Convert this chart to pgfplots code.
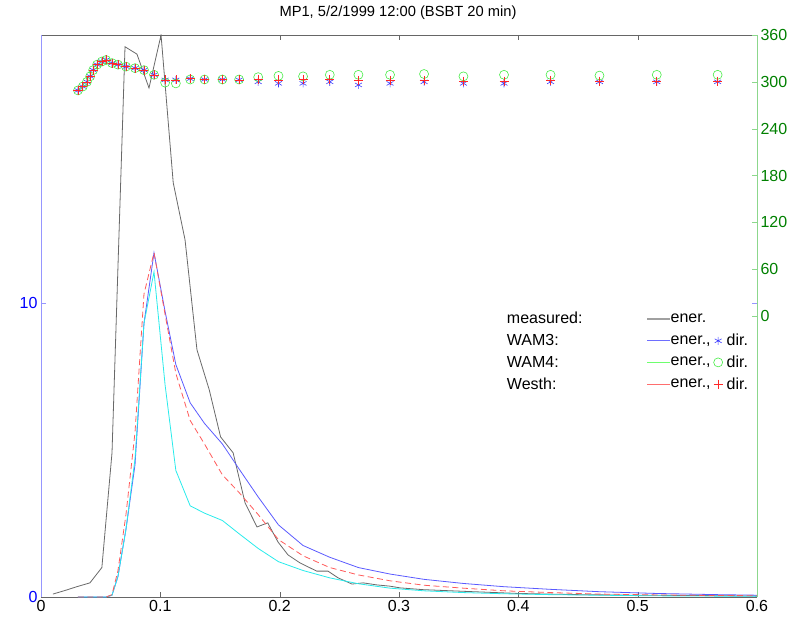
\documentclass[border=0pt]{standalone}
\usepackage{pgfplots}
\pgfplotsset{compat=1.18}
\usepackage{fontspec}
\setmainfont{Liberation Sans}
\definecolor{measgray}{RGB}{105,105,105}
\definecolor{wblue}{RGB}{90,90,255}
\definecolor{wcyan}{RGB}{40,235,235}
\definecolor{wred}{RGB}{255,90,90}
\definecolor{axblue}{RGB}{150,150,255}
\definecolor{axgreen}{RGB}{140,215,140}
\definecolor{tkgreen}{RGB}{0,128,0}
\definecolor{mkblue}{RGB}{60,60,255}
\definecolor{mkgreen}{RGB}{70,235,70}
\definecolor{mkred}{RGB}{255,40,40}
\definecolor{lggray}{RGB}{160,160,160}
\definecolor{lgblue}{RGB}{110,110,255}
\definecolor{lggreen}{RGB}{110,255,110}
\definecolor{lgred}{RGB}{255,110,110}

\begin{document}
\begin{tikzpicture}
\useasboundingbox (-41pt,-26pt) rectangle (748pt,597pt);
\begin{axis}[
  at={(0,0)}, anchor=south west, scale only axis,
  width=716pt, height=562pt,
  xmin=0, xmax=0.6, ymin=0, ymax=19.1,
  xtick={0,0.1,0.2,0.3,0.4,0.5,0.6},
  ytick={0,10},
  separate axis lines,
  x axis line style={black!60},
  y axis line style={axblue},
  xtick style={black!60}, ytick style={axblue},
  tick align=inside, major tick length=5pt,
  tick label style={font=\fontsize{16}{16}\selectfont},
  yticklabel style={text=blue},
  xticklabel style={/pgf/number format/fixed, /pgf/number format/precision=1},
  /pgf/number format/assume math mode=true,
]
% measured
\addplot[measgray, line width=0.8pt] coordinates {
(0.010,0.10)(0.020,0.22)(0.030,0.35)(0.041,0.48)(0.051,1.00)(0.0595,4.9)
(0.0704,18.7)(0.0804,18.45)(0.0905,17.3)(0.1006,19.1)(0.1108,14.08)(0.1207,12.14)
(0.1307,8.4)(0.1410,7.04)(0.1505,5.44)(0.1610,4.9)(0.1710,3.2)(0.1810,2.38)
(0.1900,2.52)(0.1986,1.87)(0.2070,1.43)(0.2170,1.16)(0.2310,0.88)(0.2405,0.88)
(0.2490,0.65)(0.2606,0.44)(0.2700,0.48)(0.2816,0.41)(0.2920,0.37)(0.3010,0.31)
(0.32,0.25)(0.35,0.20)(0.40,0.12)(0.45,0.08)(0.50,0.06)(0.55,0.05)(0.60,0.03)};
% WAM3
\addplot[wblue, line width=0.8pt] coordinates {
(0.031,0)(0.035,0)(0.0385,0)(0.0412,0)(0.0437,0)(0.047,0)(0.051,0)(0.0545,0)
(0.0595,0.06)(0.0645,0.7)(0.0712,2.3)(0.0788,4.5)(0.0863,9.3)(0.0947,11.7)
(0.104,9.7)(0.113,7.9)(0.125,6.6)(0.137,5.9)(0.152,5.2)(0.166,4.35)(0.182,3.4)
(0.199,2.45)(0.2196,1.75)(0.242,1.35)(0.266,1.0)(0.2925,0.78)(0.321,0.6)
(0.354,0.46)(0.388,0.35)(0.427,0.26)(0.468,0.18)(0.516,0.12)(0.567,0.08)(0.62,0.05)};
% WAM4
\addplot[wcyan, line width=0.8pt] coordinates {
(0.031,0)(0.035,0)(0.0385,0)(0.0412,0)(0.0437,0)(0.047,0)(0.051,0)(0.0545,0)
(0.0595,0.06)(0.0645,0.7)(0.0712,2.3)(0.0788,4.7)(0.0863,9.3)(0.0947,11.05)
(0.104,7.2)(0.113,4.3)(0.125,3.1)(0.137,2.85)(0.152,2.6)(0.166,2.15)(0.182,1.65)
(0.199,1.2)(0.2196,0.9)(0.242,0.65)(0.266,0.45)(0.2925,0.3)(0.321,0.21)
(0.354,0.15)(0.388,0.11)(0.427,0.08)(0.468,0.06)(0.516,0.04)(0.567,0.03)(0.62,0.02)};
% Westh
\addplot[wred, line width=0.8pt, dash pattern=on 6pt off 3.5pt] coordinates {
(0.031,0)(0.035,0)(0.0385,0)(0.0412,0)(0.0437,0)(0.047,0)(0.051,0)(0.0545,0)
(0.0595,0.08)(0.0645,0.9)(0.0712,2.8)(0.0788,5.6)(0.0863,10.3)(0.0947,11.7)
(0.104,9.6)(0.113,7.6)(0.125,6.0)(0.137,5.2)(0.152,4.15)(0.166,3.55)(0.182,2.8)
(0.199,1.95)(0.2196,1.4)(0.242,1.0)(0.266,0.75)(0.2925,0.55)(0.321,0.4)
(0.354,0.3)(0.388,0.21)(0.427,0.15)(0.468,0.1)(0.516,0.07)(0.567,0.05)(0.62,0.04)};
\end{axis}

\begin{axis}[
  at={(0,0)}, anchor=south west, scale only axis,
  width=716pt, height=562pt,
  xmin=0, xmax=0.6, ymin=-360, ymax=360,
  axis x line=none, axis y line*=right,
  ytick={0,60,120,180,240,300,360},
  y axis line style={axgreen, -},
  ytick style={axgreen},
  tick align=inside, major tick length=5pt,
  tick label style={font=\fontsize{16}{16}\selectfont},
  yticklabel style={text=tkgreen},
  /pgf/number format/assume math mode=true,
  legend plot pos=right,
  legend cell align=left,
  legend style={at={(0.6480,0.5100)}, anchor=north west, draw=none, fill=none,
    inner sep=0pt, outer sep=0pt, column sep=62pt, row sep=5pt,
    font=\fontsize{16}{16}\selectfont},
]
\addlegendimage{legend image code/.code={
  \path[draw=none, fill=none] (0pt,-6pt) rectangle (108pt,6pt);
  \draw[lggray, line width=1.2pt] (0pt,0pt) -- (23pt,0pt);
  \node[anchor=west, inner sep=0.5pt, text=black] at (23pt,0pt) {ener.};}}
\addlegendentry{measured:}
\addlegendimage{legend image code/.code={
  \path[draw=none, fill=none] (0pt,-6pt) rectangle (108pt,6pt);
  \draw[lgblue, line width=1.2pt] (0pt,0pt) -- (23pt,0pt);
  \node[anchor=west, inner sep=0.5pt, text=black] at (23pt,0pt) {ener.,};
  \draw[mkblue, line width=0.6pt] plot[mark=asterisk, mark size=4pt] coordinates {(71pt,0pt)};
  \node[anchor=west, inner sep=0.5pt, text=black] at (79pt,0pt) {dir.};}}
\addlegendentry{WAM3:}
\addlegendimage{legend image code/.code={
  \path[draw=none, fill=none] (0pt,-6pt) rectangle (108pt,6pt);
  \draw[lggreen, line width=1.2pt] (0pt,0pt) -- (23pt,0pt);
  \node[anchor=west, inner sep=0.5pt, text=black] at (23pt,0pt) {ener.,};
  \draw[mkgreen, line width=0.6pt] plot[mark=o, mark size=4.5pt] coordinates {(71pt,0pt)};
  \node[anchor=west, inner sep=0.5pt, text=black] at (79pt,0pt) {dir.};}}
\addlegendentry{WAM4:}
\addlegendimage{legend image code/.code={
  \path[draw=none, fill=none] (0pt,-6pt) rectangle (108pt,6pt);
  \draw[lgred, line width=1.2pt] (0pt,0pt) -- (23pt,0pt);
  \node[anchor=west, inner sep=0.5pt, text=black] at (23pt,0pt) {ener.,};
  \draw[mkred, line width=0.6pt] plot[mark=+, mark size=4.5pt] coordinates {(71pt,0pt)};
  \node[anchor=west, inner sep=0.5pt, text=black] at (79pt,0pt) {dir.};}}
\addlegendentry{Westh:}
% WAM3 dir
\addplot[only marks, mark=asterisk, mark size=4pt, mkblue, line width=0.6pt, forget plot] coordinates {
(0.031,289)(0.035,294)(0.0385,300)(0.0412,307)(0.0437,315)(0.047,322)(0.051,326)
(0.0545,328)(0.0595,324)(0.0645,322)(0.0712,319.5)(0.0788,317.5)(0.0863,315)
(0.0947,309)(0.104,302.5)(0.113,302.5)(0.125,304)(0.137,303)(0.152,303)(0.166,302.5)
(0.182,300)(0.199,298)(0.2196,298)(0.242,300)(0.266,296)(0.2925,298)(0.321,300)
(0.354,298)(0.388,298)(0.427,300)(0.468,300)(0.516,300)(0.567,300)};
% WAM4 dir
\addplot[only marks, mark=o, mark size=4.5pt, mkgreen, line width=0.6pt, forget plot] coordinates {
(0.031,289)(0.035,294)(0.0385,300)(0.0412,307)(0.0437,315)(0.047,322)(0.051,326)
(0.0545,328)(0.0595,324)(0.0645,322)(0.0712,319.5)(0.0788,317.5)(0.0863,315)
(0.0947,309)(0.104,299)(0.113,298)(0.125,303)(0.137,303)(0.152,303)(0.166,303)
(0.182,306)(0.199,307.6)(0.2196,307)(0.242,309)(0.266,309)(0.2925,309)(0.321,310)
(0.354,307)(0.388,309)(0.427,309)(0.468,308)(0.516,309)(0.567,309)};
% Westh dir
\addplot[only marks, mark=+, mark size=4.5pt, mkred, line width=0.6pt, forget plot] coordinates {
(0.031,289)(0.035,294)(0.0385,300)(0.0412,307)(0.0437,315)(0.047,322)(0.051,326)
(0.0545,328)(0.0595,324)(0.0645,322)(0.0712,319.5)(0.0788,317.5)(0.0863,315)
(0.0947,309)(0.104,302.5)(0.113,302.5)(0.125,304)(0.137,303)(0.152,303)(0.166,302.5)
(0.182,303)(0.199,302.5)(0.2196,303)(0.242,303)(0.266,302)(0.2925,302)(0.321,302)
(0.354,301)(0.388,301)(0.427,302)(0.468,301)(0.516,301)(0.567,301)};
\end{axis}
\node[font=\fontsize{14.7}{14.7}\selectfont] at (357pt,584pt) {MP1, 5/2/1999 12:00 (BSBT 20 min)};
\end{tikzpicture}
\end{document}
